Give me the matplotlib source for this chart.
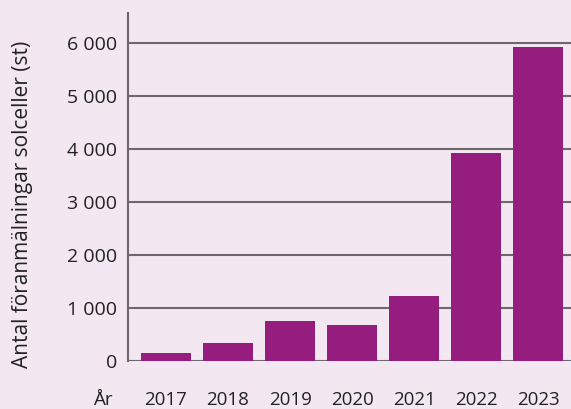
import matplotlib
matplotlib.use("Agg")
import matplotlib.pyplot as plt
from matplotlib.ticker import FixedLocator, FuncFormatter

# Reported counts per year
years = ["2017", "2018", "2019", "2020", "2021", "2022", "2023"]
counts = [150, 340, 750, 670, 1220, 3920, 5920]
y_ticks = [0, 1000, 2000, 3000, 4000, 5000, 6000]

bg = "#f3e8f1"
bar_color = "#951d7d"
grid_color = "#6e686c"
text_color = "#222222"
fs = 13.5

plt.rcParams["font.family"] = ["Open Sans", "DejaVu Sans"]

fig = plt.figure(figsize=(5.71, 4.09), dpi=100)
fig.patch.set_facecolor(bg)
ax = fig.add_axes([0.2242, 0.118, 0.7758, 0.85])
ax.set_facecolor(bg)

x = list(range(len(years)))
ax.bar(x, counts, width=0.806, color=bar_color, zorder=3)

ax.set_xlim(-0.613, 6.53)
ax.set_ylim(0, 6560)

ax.yaxis.set_major_locator(FixedLocator(y_ticks))
ax.yaxis.set_major_formatter(FuncFormatter(lambda v, p: f"{int(v):,}".replace(",", " ")))
ax.grid(axis="y", color=grid_color, linewidth=1.5, zorder=1)

ax.set_xticks(x)
ax.set_xticklabels(years)
ax.tick_params(axis="x", length=0, pad=22, labelsize=fs, labelcolor=text_color)
ax.tick_params(axis="y", length=0, pad=8, labelsize=fs + 0.5, labelcolor=text_color)

for side in ["top", "right", "bottom"]:
    ax.spines[side].set_visible(False)
ax.spines["left"].set_color(grid_color)
ax.spines["left"].set_linewidth(1.5)

ax.set_ylabel("Antal föranmälningar solceller (st)", fontsize=15, color=text_color)
ax.yaxis.set_label_coords(-0.215, 0.45)

# year label to the left of the x tick labels
fig.text(104 / 571, 1 - 400 / 409, "År", fontsize=fs, color=text_color, ha="center", va="center")

fig.savefig("out.png", dpi=100, facecolor=bg)
